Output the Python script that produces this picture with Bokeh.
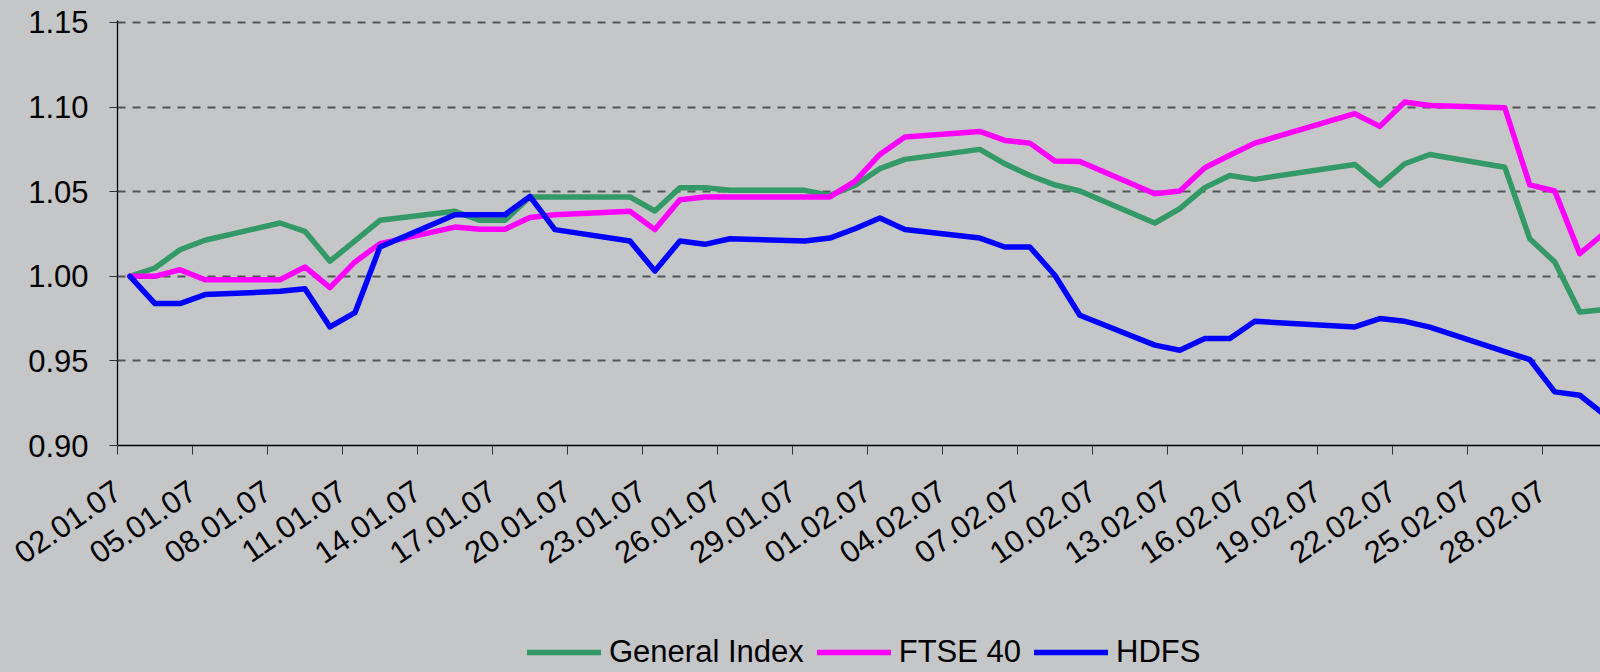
from datetime import date
from bokeh.plotting import figure
from bokeh.layouts import column
from bokeh.models import (Range1d, FixedTicker, Legend, LegendItem,
                          NumeralTickFormatter, ColumnDataSource)
from bokeh.embed import file_html
from bokeh.resources import INLINE

# ---- data ----
dates = ["02.01.07", "03.01.07", "04.01.07", "05.01.07", "08.01.07", "09.01.07",
         "10.01.07", "11.01.07", "12.01.07", "15.01.07", "16.01.07", "17.01.07",
         "18.01.07", "19.01.07", "22.01.07", "23.01.07", "24.01.07", "25.01.07",
         "26.01.07", "29.01.07", "30.01.07", "31.01.07", "01.02.07", "02.02.07",
         "05.02.07", "06.02.07", "07.02.07", "08.02.07", "09.02.07", "12.02.07",
         "13.02.07", "14.02.07", "15.02.07", "16.02.07", "20.02.07", "21.02.07",
         "22.02.07", "23.02.07", "26.02.07", "27.02.07", "28.02.07", "01.03.07",
         "02.03.07"]

general_index = [1.000, 1.0049, 1.0157, 1.0213, 1.0315, 1.0266,
                 1.0089, 1.0209, 1.0331, 1.0384, 1.0331, 1.0331,
                 1.0469, 1.0469, 1.0469, 1.0386, 1.0524, 1.0524,
                 1.0508, 1.0508, 1.0478, 1.0537, 1.0636, 1.0691,
                 1.0750, 1.0665, 1.0596, 1.0540, 1.0504, 1.0315,
                 1.0400, 1.0524, 1.0596, 1.0573, 1.0661, 1.0537,
                 1.0665, 1.0720, 1.0645, 1.0222, 1.0084, 0.9789,
                 0.9803]

ftse_40 = [1.000, 1.000, 1.0039, 0.9980, 0.9980, 1.0055,
           0.9933, 1.0085, 1.0193, 1.0291, 1.0278, 1.0278,
           1.0348, 1.0364, 1.0384, 1.0276, 1.0453, 1.0469,
           1.0469, 1.0469, 1.0469, 1.0561, 1.0720, 1.0823,
           1.0856, 1.0803, 1.0787, 1.0681, 1.0679, 1.0488,
           1.0504, 1.0642, 1.0715, 1.0787, 1.0961, 1.0886,
           1.1030, 1.1010, 1.0996, 1.0540, 1.0504, 1.0134,
           1.0257]

hdfs = [1.000, 0.9839, 0.9839, 0.9892, 0.9911, 0.9927,
        0.9701, 0.9785, 1.0173, 1.0364, 1.0364, 1.0364,
        1.0472, 1.0276, 1.0209, 1.0031, 1.0209, 1.0189,
        1.0222, 1.0209, 1.0226, 1.0281, 1.0344, 1.0276,
        1.0226, 1.0173, 1.0173, 1.0006, 0.9770, 0.9593,
        0.9563, 0.9632, 0.9632, 0.9734, 0.9701, 0.9750,
        0.9734, 0.9700, 0.9555, 0.9508, 0.9317, 0.9297,
        0.9180]

tick_labels = ["02.01.07", "05.01.07", "08.01.07", "11.01.07", "14.01.07",
               "17.01.07", "20.01.07", "23.01.07", "26.01.07", "29.01.07",
               "01.02.07", "04.02.07", "07.02.07", "10.02.07", "13.02.07",
               "16.02.07", "19.02.07", "22.02.07", "25.02.07", "28.02.07"]

y_ticks = [0.90, 0.95, 1.00, 1.05, 1.10, 1.15]

series_names = ["General Index", "FTSE 40", "HDFS"]
series_colors = ["#339966", "#FF00FF", "#0000FF"]

# ---- helpers ----
START = date(2007, 1, 2)


def day_index(s):
    d, m, y = s.split(".")
    return (date(2000 + int(y), int(m), int(d)) - START).days


x_vals = [day_index(s) + 0.5 for s in dates]       # points sit mid-day
tick_pos = [day_index(s) for s in tick_labels]

BG = "#c5c6c8"
FONT = "Liberation Sans"
LW = 5.5

src = ColumnDataSource(dict(x=x_vals, g=general_index, f=ftse_40, h=hdfs))
cols = ["g", "f", "h"]

# ---- main chart ----
p = figure(width=1600, height=630, output_backend="svg", toolbar_location=None,
           x_range=Range1d(0, 59.33), y_range=Range1d(0.90, 1.15118),
           min_border_left=117, min_border_right=0, min_border_top=20,
           min_border_bottom=185)
p.background_fill_color = BG
p.border_fill_color = BG
p.outline_line_color = None

for col, color in zip(cols, series_colors):
    p.line("x", col, source=src, line_color=color, line_width=LW,
           line_join="round", line_cap="round")

p.xgrid.visible = False
p.ygrid.ticker = FixedTicker(ticks=y_ticks)
p.ygrid.grid_line_color = "#555555"
p.ygrid.grid_line_dash = "8 7"
p.ygrid.grid_line_width = 2

p.yaxis.ticker = FixedTicker(ticks=y_ticks)
p.yaxis.formatter = NumeralTickFormatter(format="0.00")
p.yaxis.axis_line_color = "black"
p.yaxis.axis_line_width = 1.3
p.yaxis.major_tick_in = 0
p.yaxis.major_tick_out = 8
p.yaxis.major_tick_line_color = "#333333"
p.yaxis.minor_tick_line_color = None
p.yaxis.major_label_standoff = 21
p.yaxis.major_label_text_font = FONT
p.yaxis.major_label_text_font_size = "31px"
p.yaxis.major_label_text_color = "black"

p.xaxis.ticker = FixedTicker(ticks=tick_pos)
p.xaxis.major_label_overrides = {t: lab for t, lab in zip(tick_pos, tick_labels)}
p.xaxis.major_label_orientation = 0.6
p.xaxis.axis_line_color = "black"
p.xaxis.axis_line_width = 1.3
p.xaxis.major_tick_in = 0
p.xaxis.major_tick_out = 9
p.xaxis.major_tick_line_color = "#333333"
p.xaxis.minor_tick_line_color = None
p.xaxis.major_label_standoff = 33
p.xaxis.major_label_text_font = FONT
p.xaxis.major_label_text_font_size = "31px"
p.xaxis.major_label_text_color = "black"

# ---- legend strip (same series, lines kept out of view) ----
lg = figure(width=1600, height=42, output_backend="svg", toolbar_location=None,
            x_range=Range1d(1000, 1001), y_range=Range1d(0, 1),
            x_axis_type=None, y_axis_type=None,
            min_border_left=0, min_border_right=0, min_border_top=0,
            min_border_bottom=0)
lg.background_fill_alpha = 0
lg.border_fill_alpha = 0
lg.outline_line_color = None
lg.grid.visible = False
legend_renderers = []
for col, color in zip(cols, series_colors):
    r = lg.line("x", col, source=src, line_color=color, line_width=LW,
                line_cap="round")
    legend_renderers.append(r)

legend = Legend(items=[LegendItem(label=n, renderers=[r])
                       for n, r in zip(series_names, legend_renderers)],
                orientation="horizontal", location=(410, 2),
                glyph_width=74, glyph_height=26, label_height=26,
                label_standoff=8, spacing=13, padding=0, margin=0,
                border_line_alpha=0, background_fill_alpha=0,
                label_text_font=FONT, label_text_font_size="31px",
                label_text_color="black")
lg.add_layout(legend, "center")

layout = column(p, lg, spacing=0, background=BG)
html = file_html(layout, INLINE)
html = html.replace("<head>", "<head><style>html, body { background: %s; }</style>" % BG, 1)
open("out.html", "w").write(html)
